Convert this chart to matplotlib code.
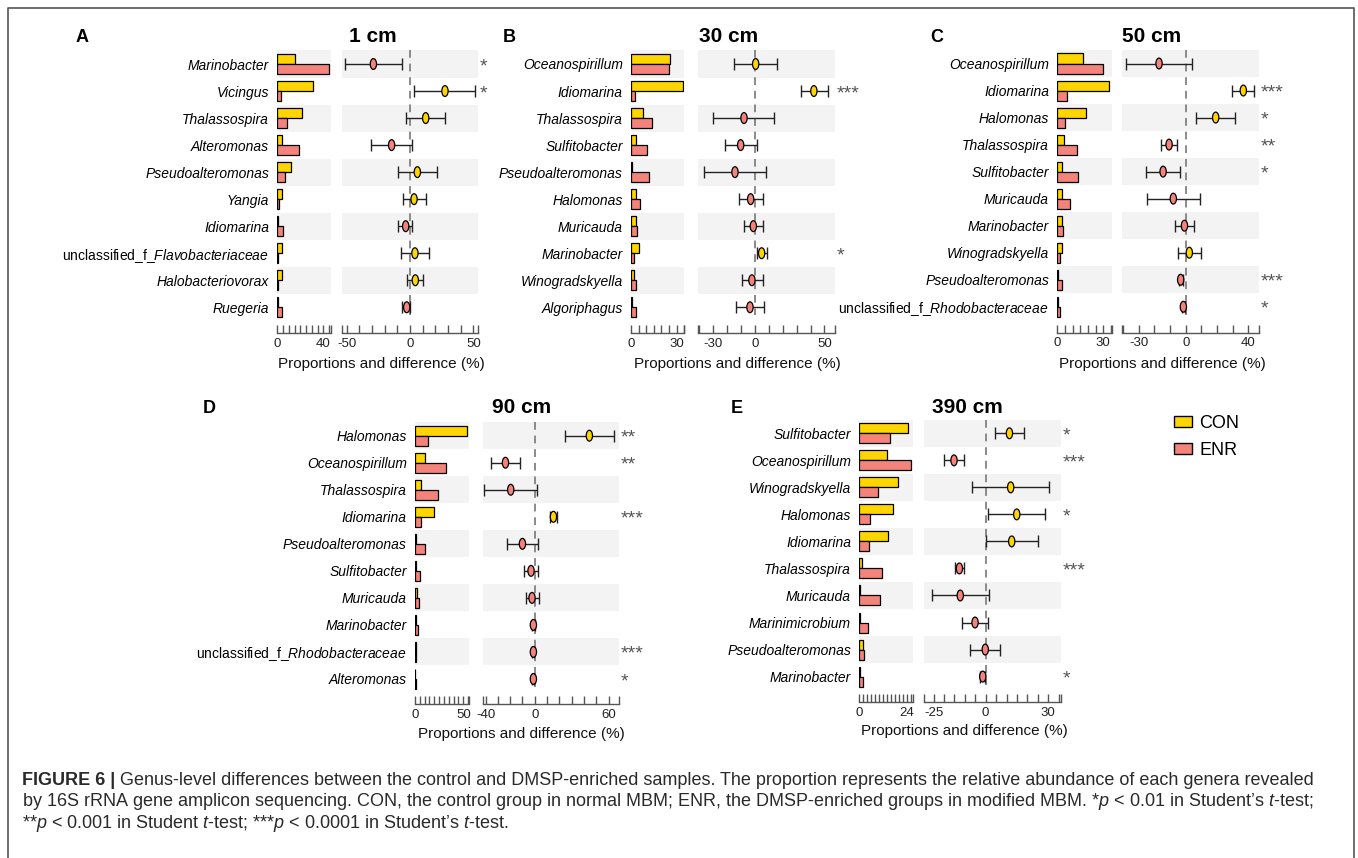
import matplotlib
matplotlib.use("Agg")
import matplotlib.pyplot as plt
import numpy as np
from matplotlib.path import Path
from matplotlib.patches import Patch
from matplotlib.lines import Line2D
from matplotlib.transforms import blended_transform_factory, Affine2D
from matplotlib.ticker import FixedLocator, FixedFormatter

plt.rcParams['font.family'] = ['Liberation Sans', 'DejaVu Sans']
plt.rcParams['mathtext.fontset'] = 'custom'
plt.rcParams['mathtext.rm'] = 'Liberation Sans'
plt.rcParams['mathtext.it'] = 'Liberation Sans:italic'
plt.rcParams['mathtext.bf'] = 'Liberation Sans:bold'
plt.rcParams['axes.unicode_minus'] = False

# ---------------- data ----------------
a_genera = ["Marinobacter", "Vicingus", "Thalassospira", "Alteromonas", "Pseudoalteromonas",
            "Yangia", "Idiomarina", "unclassified_f_Flavobacteriaceae", "Halobacteriovorax", "Ruegeria"]
a_con = [15.5, 30.7, 21.1, 3.8, 12.3, 4.4, 0.9, 4.4, 4.4, 0.6]
a_enr = [45.0, 2.9, 8.8, 18.7, 6.4, 1.2, 5.0, 0.6, 0.3, 3.8]
a_diff = [-28.9, 27.6, 12.4, -14.5, 5.8, 3.2, -3.4, 3.9, 4.2, -2.6]
a_lo = [-51.3, 3.2, -3.2, -30.8, -9.2, -5.8, -9.2, -7.1, -2.1, -6.1]
a_hi = [-6.6, 51.3, 27.6, 1.8, 21.1, 12.4, 1.8, 15.3, 10.5, 0.0]
a_sig = ["*", "*", "", "", "", "", "", "", "", ""]

b_genera = ["Oceanospirillum", "Idiomarina", "Thalassospira", "Sulfitobacter", "Pseudoalteromonas",
            "Halomonas", "Muricauda", "Marinobacter", "Winogradskyella", "Algoriphagus"]
b_con = [25.8, 33.9, 7.7, 3.1, 0.7, 3.5, 3.1, 5.3, 2.2, 0.4]
b_enr = [25.2, 2.8, 13.6, 10.7, 11.8, 5.7, 3.9, 1.8, 3.5, 3.3]
b_diff = [0.5, 42.4, -7.9, -10.3, -14.4, -3.1, -1.2, 4.8, -2.2, -3.6]
b_lo = [-14.9, 32.9, -30.0, -21.6, -36.9, -11.8, -7.7, 1.2, -9.6, -13.7]
b_hi = [16.1, 52.3, 13.9, 1.2, 7.7, 5.5, 6.0, 8.4, 5.5, 6.5]
b_sig = ["", "***", "", "", "", "", "", "*", "", ""]

c_genera = ["Oceanospirillum", "Idiomarina", "Halomonas", "Thalassospira", "Sulfitobacter",
            "Muricauda", "Marinobacter", "Winogradskyella", "Pseudoalteromonas",
            "unclassified_f_Rhodobacteraceae"]
c_con = [17.0, 33.5, 18.9, 4.6, 2.8, 2.8, 2.8, 3.3, 0.4, 0.7]
c_enr = [29.6, 6.5, 5.0, 12.6, 13.7, 8.5, 3.7, 1.7, 2.8, 1.7]
c_diff = [-17.0, 36.7, 19.1, -10.6, -14.4, -7.9, -0.8, 2.3, -3.2, -1.5]
c_lo = [-38.0, 29.3, 6.4, -15.7, -25.3, -24.8, -6.6, -5.1, -4.2, -2.3]
c_hi = [3.8, 43.7, 31.4, -5.3, -3.4, 9.1, 5.3, 9.8, -1.9, -0.6]
c_sig = ["", "***", "*", "**", "*", "", "", "", "***", "*"]

d_genera = ["Halomonas", "Oceanospirillum", "Thalassospira", "Idiomarina", "Pseudoalteromonas",
            "Sulfitobacter", "Muricauda", "Marinobacter", "unclassified_f_Rhodobacteraceae",
            "Alteromonas"]
d_con = [53.4, 10.7, 6.6, 19.3, 1.4, 1.4, 1.7, 1.4, 0.7, 0.3]
d_enr = [13.8, 31.7, 24.1, 5.9, 10.0, 4.8, 3.8, 3.1, 1.0, 0.7]
d_diff = [44.4, -23.8, -19.5, 15.2, -10.0, -3.0, -2.2, -1.1, -1.1, -1.1]
d_lo = [24.4, -35.5, -40.9, 12.5, -22.8, -8.4, -7.0, -2.4, -1.9, -1.9]
d_hi = [64.8, -11.9, 1.6, 18.4, 3.0, 3.0, 3.5, 0.3, -0.3, -0.3]
d_sig = ["**", "**", "", "***", "", "", "", "", "***", "*"]

e_genera = ["Sulfitobacter", "Oceanospirillum", "Winogradskyella", "Halomonas", "Idiomarina",
            "Thalassospira", "Muricauda", "Marinimicrobium", "Pseudoalteromonas", "Marinobacter"]
e_con = [24.8, 13.9, 19.4, 17.2, 14.7, 1.2, 0.5, 0.2, 2.0, 0.3]
e_enr = [15.7, 26.0, 9.6, 5.4, 5.1, 11.3, 10.5, 4.6, 2.4, 1.7]
e_diff = [11.4, -15.2, 12.0, 14.9, 12.5, -12.6, -12.2, -5.1, -0.2, -1.4]
e_lo = [4.5, -19.8, -6.4, 1.3, 0.0, -14.7, -25.9, -11.4, -7.4, -2.6]
e_hi = [18.6, -10.4, 30.6, 28.5, 25.0, -10.4, 1.8, 1.0, 6.9, -0.2]
e_sig = ["*", "***", "", "*", "", "***", "", "", "", "*"]

groups = ["CON", "ENR"]
depth_titles = ["1 cm", "30 cm", "50 cm", "90 cm", "390 cm"]
panel_letters = ["A", "B", "C", "D", "E"]
xlabel_text = "Proportions and difference (%)"

# ---------------- style / layout ----------------
W, H = 1358, 858
YEL = "#FFD500"
PINK = "#F4837B"
BAND = "#F3F3F3"
AXC = "#555555"


def fx(px):
    return px / W


def fy(py):
    return 1 - py / H


ell = Path.unit_circle().transformed(Affine2D().scale(0.58, 1.0))

layout = [
    dict(bar=(277.3, 330.5), diff=(341.7, 478.3), row0=64.0, axis_y=333.3,
         bar_xmax=46.3, bar_step=5, bar_labels=[0, 40],
         dxlim=(-53.9, 53.9), dstep=10, dlabels=[-50, 0, 50],
         letter_x=81.7, title_x=373, base_y=42, xlab_y=368.3),
    dict(bar=(631.0, 684.3), diff=(698.3, 835.0), row0=64.0, axis_y=333.3,
         bar_xmax=35.0, bar_step=5, bar_labels=[0, 30],
         dxlim=(-40.8, 57.6), dstep=10, dlabels=[-30, 0, 50],
         letter_x=509.3, title_x=729, base_y=42, xlab_y=368.3),
    dict(bar=(1057.3, 1111.7), diff=(1122.3, 1259.0), row0=63.5, axis_y=332.5,
         bar_xmax=35.5, bar_step=5, bar_labels=[0, 30],
         dxlim=(-40.4, 46.7), dstep=10, dlabels=[-30, 0, 40],
         letter_x=936.7, title_x=1152, base_y=42, xlab_y=368.3),
    dict(bar=(415.0, 469.3), diff=(482.7, 619.0), row0=435.7, axis_y=704.0,
         bar_xmax=56.2, bar_step=5, bar_labels=[0, 50],
         dxlim=(-42.3, 68.5), dstep=10, dlabels=[-40, 0, 60],
         letter_x=209.3, title_x=521.7, base_y=412.5, xlab_y=738.3),
    dict(bar=(859.3, 913.3), diff=(924.0, 1060.7), row0=433.3, axis_y=701.7,
         bar_xmax=27.4, bar_step=2, bar_labels=[0, 24],
         dxlim=(-29.6, 36.0), dstep=5, dlabels=[-25, 0, 30],
         letter_x=737, title_x=967.7, base_y=412.5, xlab_y=735.0),
]
PITCH = 27.03

panels_data = [
    (a_genera, a_con, a_enr, a_diff, a_lo, a_hi, a_sig),
    (b_genera, b_con, b_enr, b_diff, b_lo, b_hi, b_sig),
    (c_genera, c_con, c_enr, c_diff, c_lo, c_hi, c_sig),
    (d_genera, d_con, d_enr, d_diff, d_lo, d_hi, d_sig),
    (e_genera, e_con, e_enr, e_diff, e_lo, e_hi, e_sig),
]

fig = plt.figure(figsize=(W / 100, H / 100), dpi=100)


def style_xaxis(ax, xmin, xmax, step, labels):
    minor = list(np.arange(np.ceil(xmin / step) * step, xmax + 1e-9, step)) + [xmin, xmax]
    ax.set_xlim(xmin, xmax)
    ax.xaxis.set_major_locator(FixedLocator(labels))
    ax.xaxis.set_major_formatter(FixedFormatter([str(v) for v in labels]))
    ax.xaxis.set_minor_locator(FixedLocator(minor))
    ax.tick_params(axis='x', which='both', direction='in', length=5.5, width=1,
                   color=AXC, labelsize=9.5, pad=3.5, labelcolor='#222222')
    for s in ['top', 'left', 'right']:
        ax.spines[s].set_visible(False)
    ax.spines['bottom'].set_color(AXC)
    ax.spines['bottom'].set_linewidth(1)


for lay, (gen, con, enr, diff, lo, hi, sig), title, letter in zip(
        layout, panels_data, depth_titles, panel_letters):
    n = len(gen)
    y = np.arange(n)
    top = lay['row0'] - PITCH / 2
    bottom = lay['axis_y']
    extra = (bottom - top) / PITCH - n
    ylim = (n - 0.5 + extra, -0.5)

    # ---- proportions (bars) ----
    bx0, bx1 = lay['bar']
    axb = fig.add_axes([fx(bx0), fy(bottom), (bx1 - bx0) / W, (bottom - top) / H])
    axb.set_facecolor('none')
    for i in range(0, n, 2):
        axb.axhspan(i - 0.5, i + 0.5, color=BAND, lw=0, zorder=0)
    axb.barh(y - 0.185, con, height=0.37, color=YEL, edgecolor='black', linewidth=0.9, zorder=2)
    axb.barh(y + 0.185, enr, height=0.37, color=PINK, edgecolor='black', linewidth=0.9, zorder=2)
    axb.set_ylim(*ylim)
    style_xaxis(axb, 0, lay['bar_xmax'], lay['bar_step'], lay['bar_labels'])
    labels = []
    for g in gen:
        if g.startswith("unclassified_f_"):
            labels.append("unclassified_f_$\\mathit{" + g[len("unclassified_f_"):] + "}$")
        else:
            labels.append(g)
    axb.set_yticks(y)
    axb.set_yticklabels(labels, fontsize=10)
    axb.tick_params(axis='y', length=0, pad=6)
    for lbl, g in zip(axb.get_yticklabels(), gen):
        if not g.startswith("unclassified_f_"):
            lbl.set_fontstyle('italic')

    # ---- difference (CI) ----
    dx0, dx1 = lay['diff']
    axd = fig.add_axes([fx(dx0), fy(bottom), (dx1 - dx0) / W, (bottom - top) / H])
    axd.set_facecolor('none')
    for i in range(0, n, 2):
        axd.axhspan(i - 0.5, i + 0.5, color=BAND, lw=0, zorder=0)
    axd.plot([0, 0], [-0.5, n - 0.7], color='#8a8a8a', ls=(0, (4, 3)), lw=1.4, zorder=1)
    diff_a = np.array(diff)
    lo_a = np.array(lo)
    hi_a = np.array(hi)
    axd.errorbar(diff_a, y, xerr=[diff_a - lo_a, hi_a - diff_a], fmt='none',
                 ecolor='#222222', elinewidth=1.0, capsize=4.6, capthick=1.0, zorder=2)
    cols = [YEL if d > 0 else PINK for d in diff]
    axd.scatter(diff_a, y, marker=ell, s=7.8 ** 2, c=cols, edgecolors='black',
                linewidths=0.9, zorder=3)
    axd.set_ylim(*ylim)
    axd.set_yticks([])
    style_xaxis(axd, lay['dxlim'][0], lay['dxlim'][1], lay['dstep'], lay['dlabels'])
    tr = blended_transform_factory(axd.transAxes, axd.transData)
    xoff = 1 + 1.5 / (dx1 - dx0)
    for i, s in enumerate(sig):
        if s:
            axd.text(xoff, i + 0.26, s, transform=tr, ha='left', va='baseline',
                     fontsize=14, color='#555555', clip_on=False)

    # ---- texts ----
    fig.text(fx(lay['letter_x']), fy(lay['base_y']), letter, fontsize=13, fontweight='bold',
             ha='center', va='baseline')
    fig.text(fx(lay['title_x']), fy(lay['base_y']), title, fontsize=15, fontweight='bold',
             ha='center', va='baseline')
    fig.text(fx((bx0 + dx1) / 2 + 4), fy(lay['xlab_y']), xlabel_text, fontsize=11,
             ha='center', va='baseline', color='#111111')

# ---- legend ----
handles = [Patch(facecolor=YEL, edgecolor='black', linewidth=1, label=groups[0]),
           Patch(facecolor=PINK, edgecolor='black', linewidth=1, label=groups[1])]
fig.legend(handles=handles, loc='upper left', bbox_to_anchor=(fx(1174), fy(415)),
           frameon=False, fontsize=13, handlelength=1.0, handleheight=0.6,
           handletextpad=0.4, labelspacing=0.55, borderpad=0, borderaxespad=0)

# ---- frame ----
fig.add_artist(Line2D([fx(8.3), fx(8.3), fx(1354), fx(1354)], [0, fy(8.3), fy(8.3), 0],
                      transform=fig.transFigure, color='#555555', lw=1.2))

# ---- caption ----
cap_bold = "FIGURE 6 |"
cap1 = " Genus-level differences between the control and DMSP-enriched samples. The proportion represents the relative abundance of each genera revealed"
cap2 = "by 16S rRNA gene amplicon sequencing. CON, the control group in normal MBM; ENR, the DMSP-enriched groups in modified MBM. *$\\mathit{p}$ < 0.01 in Student’s $\\mathit{t}$-test;"
cap3 = "**$\\mathit{p}$ < 0.001 in Student $\\mathit{t}$-test; ***$\\mathit{p}$ < 0.0001 in Student’s $\\mathit{t}$-test."

renderer = fig.canvas.get_renderer()
CAPC = '#2a2a2a'
fs0 = 10.0
tb = fig.text(fx(22), fy(785), cap_bold, fontsize=fs0, fontweight='bold', va='baseline', color=CAPC)
t1 = fig.text(fx(22), fy(785), cap1, fontsize=fs0, va='baseline', color=CAPC)
wb = tb.get_window_extent(renderer).width
w1 = t1.get_window_extent(renderer).width
fs = fs0 * (1318 - 22) / (wb + w1)
tb.set_fontsize(fs)
t1.set_fontsize(fs)
wb = tb.get_window_extent(renderer).width
t1.set_x(fx(22 + wb))
fig.text(fx(22), fy(806.5), cap2, fontsize=fs, va='baseline', color=CAPC)
fig.text(fx(22), fy(828), cap3, fontsize=fs, va='baseline', color=CAPC)

fig.savefig("out.png", dpi=100)
